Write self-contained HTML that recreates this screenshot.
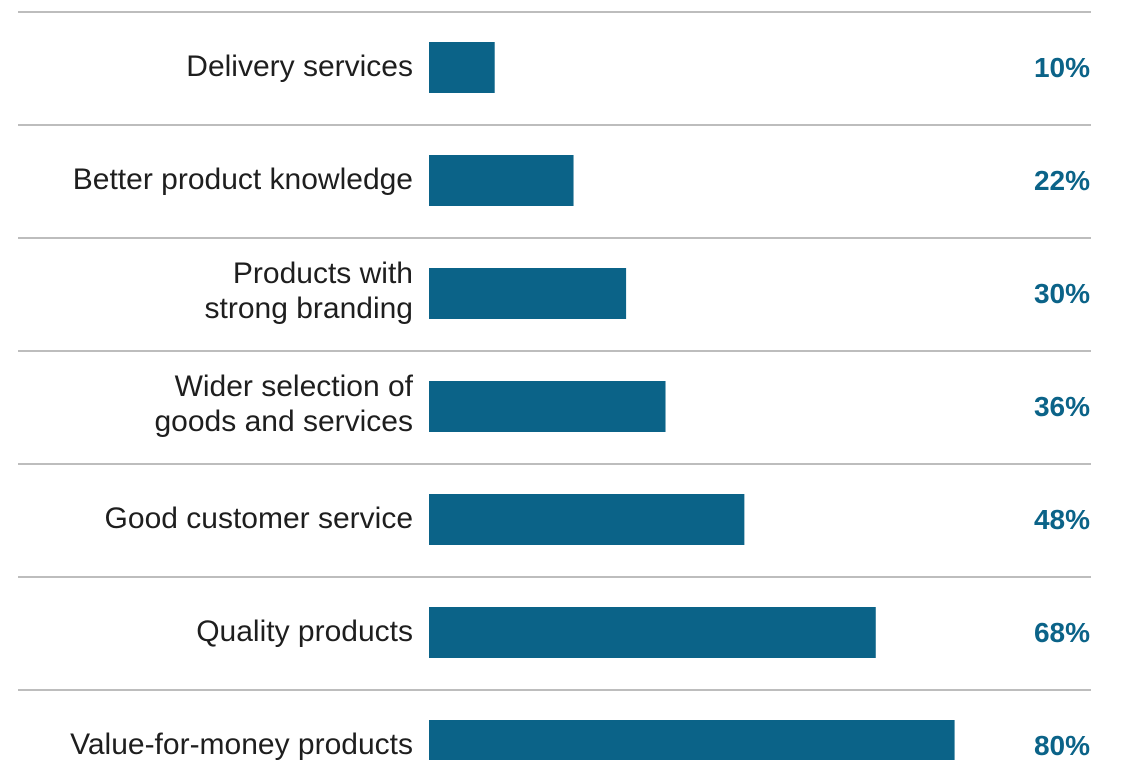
<!DOCTYPE html>
<html><head><meta charset="utf-8"><style>
html,body{margin:0;padding:0;background:#fff;width:1140px;height:760px;overflow:hidden}
svg{display:block}
text{font-family:"Liberation Sans",sans-serif}
</style></head><body>
<svg id="chart" width="1140" height="760"></svg>
<script>
const categories=[["Delivery services"],["Better product knowledge"],["Products with","strong branding"],["Wider selection of","goods and services"],["Good customer service"],["Quality products"],["Value-for-money products"]];
const values=[10,22,30,36,48,68,80];
const valueLabels=["10%","22%","30%","36%","48%","68%","80%"];
const NS="http://www.w3.org/2000/svg";
const svg=document.getElementById("chart");
const x0=429,scale=6.57,rowTop=12,rowH=113;
function xScale(v){return x0+v*scale;}
function yRow(i){return rowTop+i*rowH;}
function mk(tag,attrs){const e=document.createElementNS(NS,tag);for(const k in attrs)e.setAttribute(k,attrs[k]);svg.appendChild(e);return e;}
categories.forEach((c,i)=>{
  const y=yRow(i);
  const ln=mk("line",{x1:18,x2:1091,y1:y,y2:y,stroke:"#bdbdbd","stroke-width":2});
  
  
  const b=mk("rect",{x:x0,y:y+30,width:xScale(values[i])-x0,height:51,fill:"#0b6388"});
  
  
  const cy=y+56;
  const t=mk("text",{x:413,"text-anchor":"end","font-size":30,fill:"#1e1e1e"});
  
  
  if(c.length===1){t.setAttribute("y",cy+8);t.textContent=c[0];}
  else{c.forEach((s,j)=>{const ts=document.createElementNS(NS,"tspan");ts.setAttribute("x",413);ts.setAttribute("y",cy-11+j*35);ts.textContent=s;t.appendChild(ts);});}
  const v=mk("text",{x:1090,y:cy+9,"text-anchor":"end","font-size":28,"font-weight":"bold",fill:"#0b6388"});
  
  
  v.textContent=valueLabels[i];
});
</script>
</body></html>
